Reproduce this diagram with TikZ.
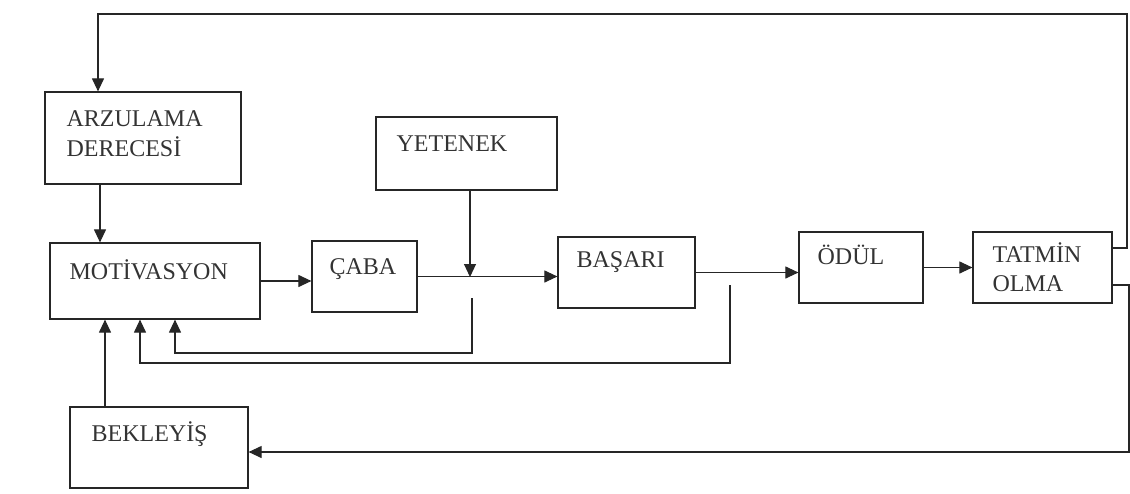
\documentclass[tikz,border=0pt]{standalone}
\usepackage{fontspec}
\setmainfont{Liberation Serif}
\usetikzlibrary{arrows.meta}
\begin{document}
\begin{tikzpicture}[x=1pt,y=-1pt,
  box/.style={draw=black!85, line width=1.2pt, rectangle, inner sep=0pt},
  lbl/.style={anchor=base west, inner sep=0pt, text=black!80, font=\fontsize{24}{28}\selectfont},
  arr/.style={draw=black!85, line width=1.1pt, -{Triangle[length=13pt,width=12pt]}},
  ln/.style={draw=black!85, line width=1.1pt}]
\useasboundingbox (0,0) rectangle (1130,493);
% boxes
\node[box, minimum width=196pt, minimum height=92pt,
  label={[lbl, xshift=22pt, yshift=-35pt]north west:ARZULAMA},
  label={[lbl, xshift=22pt, yshift=-65pt]north west:DERECESİ}] (arz) at (143,138) {};
\node[box, minimum width=210pt, minimum height=76pt,
  label={[lbl, xshift=20pt, yshift=-37pt]north west:MOTİVASYON}] (mot) at (155,281) {};
\node[box, minimum width=105pt, minimum height=71pt,
  label={[lbl, xshift=18pt, yshift=-34pt]north west:ÇABA}] (caba) at (364.5,276.5) {};
\node[box, minimum width=181pt, minimum height=73pt,
  label={[lbl, xshift=21pt, yshift=-35pt]north west:YETENEK}] (yet) at (466.5,153.5) {};
\node[box, minimum width=137pt, minimum height=71pt,
  label={[lbl, xshift=19pt, yshift=-31pt]north west:BAŞARI}] (bas) at (626.5,272.5) {};
\node[box, minimum width=124pt, minimum height=71pt,
  label={[lbl, xshift=19pt, yshift=-33pt]north west:ÖDÜL}] (odul) at (861,267.5) {};
\node[box, minimum width=139pt, minimum height=71pt,
  label={[lbl, xshift=20pt, yshift=-31pt]north west:TATMİN},
  label={[lbl, xshift=20pt, yshift=-60pt]north west:OLMA}] (tat) at (1042.5,267.5) {};
\node[box, minimum width=178pt, minimum height=81pt,
  label={[lbl, xshift=22pt, yshift=-35pt]north west:BEKLEYİŞ}] (bek) at (159,447.5) {};
% helper coordinates
\coordinate (c1) at (100,0);
\coordinate (j) at (470,277);
\coordinate (f1a) at (472,298);
\coordinate (f1b) at (472,353);
\coordinate (f2a) at (730,285);
\coordinate (f2b) at (730,363);
\coordinate (c2) at (1127,14);
\coordinate (c3) at (1129,452);
\coordinate (c4) at (105,0);
% connectors
\draw[arr] (arz.south -| c1) -- (mot.north -| c1);
\draw[arr] (mot.east) -- (mot.east -| caba.west);
\draw[arr] (caba.east) -- (caba.east -| bas.west);
\draw[arr] (yet.south -| j) -- (j);
\draw[arr] (f1a) -- (f1b) -| ([xshift=20pt]mot.south);
\draw[arr] (f2a) -- (f2b) -| ([xshift=-15pt]mot.south);
\draw[arr] (bas.east) -- (bas.east -| odul.west);
\draw[arr] (odul.east) -- (odul.east -| tat.west);
\draw[arr] ([yshift=19.5pt]tat.east) -| (c2) -| ([xshift=-45pt]arz.north);
\draw[arr] ([yshift=-17.5pt]tat.east) -| (c3) -- ([yshift=-4.5pt]bek.east);
\draw[arr] (bek.north -| c4) -- (mot.south -| c4);
\end{tikzpicture}
\end{document}
